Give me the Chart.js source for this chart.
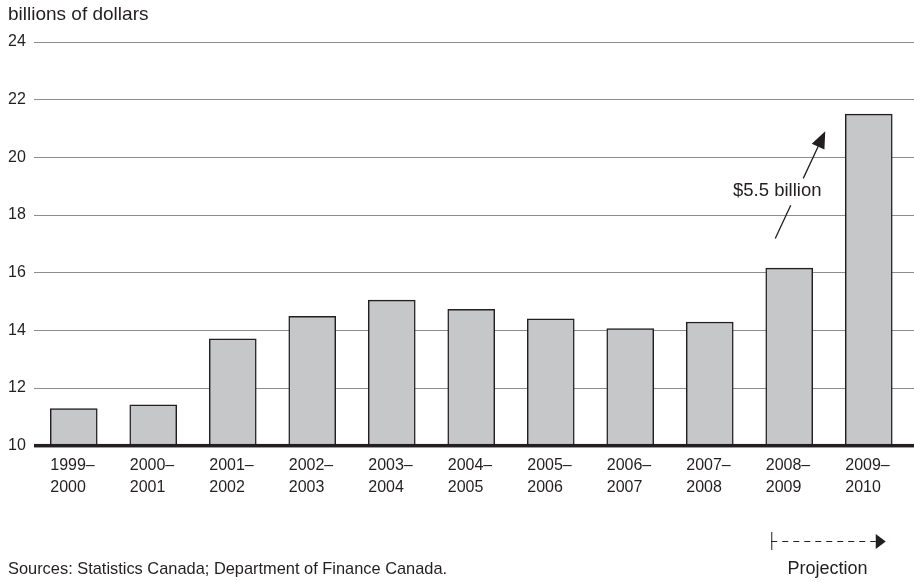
<!DOCTYPE html>
<html>
<head>
<meta charset="utf-8">
<script src="https://cdn.jsdelivr.net/npm/chart.js@4.4.1/dist/chart.umd.min.js"></script>
<style>
  html, body { margin: 0; padding: 0; background: #fff; }
  #wrap { width: 914px; height: 582px; }
</style>
</head>
<body>
<div id="wrap"><canvas id="chart" width="914" height="582"></canvas></div>
<script>
'use strict';

// fiscal years, last two are projections
const years = [
  ['1999–', '2000'], ['2000–', '2001'], ['2001–', '2002'], ['2002–', '2003'],
  ['2003–', '2004'], ['2004–', '2005'], ['2005–', '2006'], ['2006–', '2007'],
  ['2007–', '2008'], ['2008–', '2009'], ['2009–', '2010']
];
// billions of dollars
const amounts = [11.28, 11.41, 13.70, 14.48, 15.04, 14.72, 14.39, 14.05, 14.28, 16.15, 21.49];
const yTicks  = [10, 12, 14, 16, 18, 20, 22, 24];

const INK  = '#231f20';
const FONT = '"Liberation Sans", Arial, Helvetica, sans-serif';
const BAR_W = 47;

// gridlines run to the right edge of the canvas, heavy baseline at 10
const gridPlugin = {
  id: 'grid',
  beforeDatasetsDraw(chart) {
    const { ctx, chartArea, scales: { y } } = chart;
    ctx.save();
    ctx.strokeStyle = '#8d8d8d';
    ctx.lineWidth = 1;
    yTicks.slice(1).forEach(t => {
      const py = Math.round(y.getPixelForValue(t)) + 0.5;
      ctx.beginPath();
      ctx.moveTo(chartArea.left, py);
      ctx.lineTo(chart.width, py);
      ctx.stroke();
    });
    ctx.restore();
  },
  afterDatasetsDraw(chart) {
    const { ctx, chartArea, scales: { y } } = chart;
    const py = y.getPixelForValue(10);
    ctx.save();
    ctx.fillStyle = INK;
    ctx.fillRect(chartArea.left, py - 1.5, chart.width - chartArea.left, 3.5);
    ctx.restore();
  }
};

// "$5.5 billion" arrow, projection marker and source line
const notesPlugin = {
  id: 'notes',
  afterDraw(chart) {
    const { ctx, scales: { x, y } } = chart;
    const x10 = x.getPixelForValue(9);
    const x0 = x10 - 14, y0 = y.getPixelForValue(17.18);
    const x1 = x10 + 36, y1 = y.getPixelForValue(20.9);
    const lerp = f => [x0 + (x1 - x0) * f, y0 + (y1 - y0) * f];

    ctx.save();
    ctx.strokeStyle = INK;
    ctx.fillStyle = INK;
    ctx.lineWidth = 1.3;

    // line broken around the label
    const a = lerp(0), b = lerp(0.31), c = lerp(0.56), d = lerp(0.86);
    ctx.beginPath();
    ctx.moveTo(a[0], a[1]); ctx.lineTo(b[0], b[1]);
    ctx.moveTo(c[0], c[1]); ctx.lineTo(d[0], d[1]);
    ctx.stroke();

    // arrow head
    const ang = Math.atan2(y1 - y0, x1 - x0);
    const len = 17, half = 7;
    ctx.beginPath();
    ctx.moveTo(x1, y1);
    ctx.lineTo(x1 - len * Math.cos(ang) + half * Math.sin(ang), y1 - len * Math.sin(ang) - half * Math.cos(ang));
    ctx.lineTo(x1 - len * Math.cos(ang) - half * Math.sin(ang), y1 - len * Math.sin(ang) + half * Math.cos(ang));
    ctx.closePath();
    ctx.fill();

    ctx.font = '18.5px ' + FONT;
    ctx.textAlign = 'center';
    ctx.textBaseline = 'middle';
    ctx.fillText('$5.5 billion', x10 - 12, y.getPixelForValue(18.82));

    // projection marker under the last two years
    const px0 = x10 - 18, px1 = x.getPixelForValue(10) + 17, py = 541;
    ctx.lineWidth = 1;
    ctx.beginPath();
    ctx.moveTo(px0 + 0.5, py - 9); ctx.lineTo(px0 + 0.5, py + 9);
    ctx.stroke();
    ctx.setLineDash([6, 5]);
    ctx.beginPath();
    ctx.moveTo(px0, py + 0.5); ctx.lineTo(px1 - 10, py + 0.5);
    ctx.stroke();
    ctx.setLineDash([]);
    ctx.beginPath();
    ctx.moveTo(px1, py + 0.5); ctx.lineTo(px1 - 10, py - 7); ctx.lineTo(px1 - 10, py + 8);
    ctx.closePath();
    ctx.fill();

    ctx.font = '18px ' + FONT;
    ctx.fillText('Projection', (px0 + px1) / 2 - 1, 569);
    ctx.font = '16.4px ' + FONT;
    ctx.textAlign = 'left';
    ctx.fillText('Sources: Statistics Canada; Department of Finance Canada.', 8, 569);
    ctx.restore();
  }
};

const ctx = document.getElementById('chart').getContext('2d');
new Chart(ctx, {
  type: 'bar',
  data: {
    labels: years,
    datasets: [{
      data: amounts,
      backgroundColor: '#c6c7c9',
      borderColor: INK,
      borderWidth: 1.5,
      borderSkipped: 'bottom',
      barThickness: BAR_W,
    }]
  },
  options: {
    responsive: false,
    animation: false,
    devicePixelRatio: 1,
    layout: { padding: { left: 8, right: 5.5, top: 0, bottom: 74 } },
    plugins: {
      legend: { display: false },
      tooltip: { enabled: false },
      title: {
        display: true,
        text: 'billions of dollars',
        align: 'start',
        color: INK,
        font: { family: FONT, size: 19, weight: 'normal' },
        padding: { top: 3, bottom: 16 },
      },
    },
    scales: {
      x: {
        grid: { display: false, drawTicks: false },
        border: { display: false },
        afterFit: scale => { scale.paddingLeft = 0; scale.paddingRight = 0; },
        ticks: {
          color: INK,
          font: { family: FONT, size: 16, lineHeight: 1.33 },
          align: 'start',
          labelOffset: -BAR_W / 2,
          padding: 10,
          maxRotation: 0,
          autoSkip: false,
        },
      },
      y: {
        min: 10,
        max: 24,
        afterBuildTicks: scale => { scale.ticks = yTicks.map(v => ({ value: v })); },
        afterFit: scale => { scale.width = 26; },
        grid: { display: false, drawTicks: false },
        border: { display: false },
        ticks: {
          color: INK,
          font: { family: FONT, size: 16 },
          crossAlign: 'far',
          padding: 0,
        },
      },
    },
  },
  plugins: [gridPlugin, notesPlugin],
});
</script>
</body>
</html>
